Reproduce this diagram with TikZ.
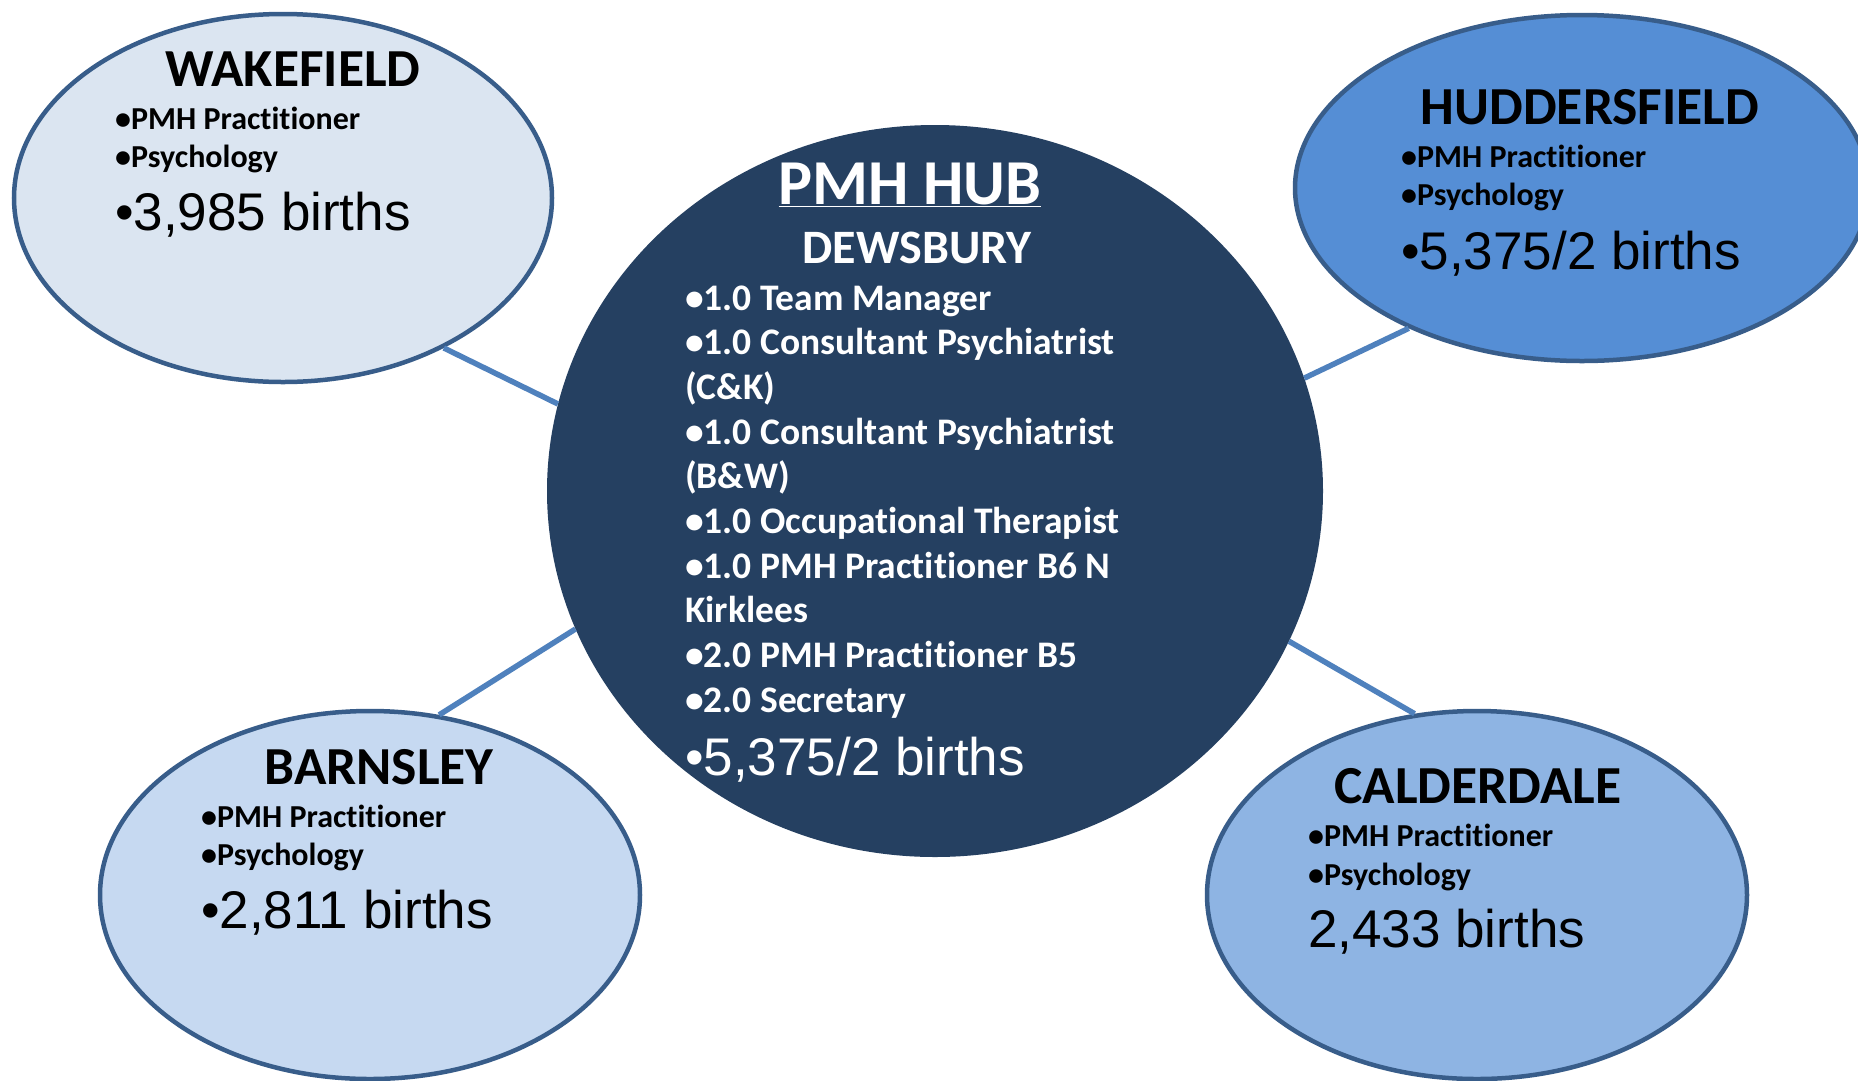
\documentclass[tikz,border=0pt]{standalone}
\usepackage{fontspec}
\setmainfont{Carlito}[Ligatures=CommonOff]
\newfontfamily\arialfont{Liberation Sans}
\usetikzlibrary{shapes.geometric, positioning, calc}

\definecolor{wakefill}{RGB}{219,229,241}
\definecolor{hudfill}{RGB}{85,142,213}
\definecolor{hubfill}{RGB}{37,64,97}
\definecolor{barnfill}{RGB}{198,217,241}
\definecolor{calfill}{RGB}{142,180,227}
\definecolor{siteline}{RGB}{56,93,138}
\definecolor{linkblue}{RGB}{79,129,189}

\tikzset{
  site/.style={ellipse, draw=siteline, line width=4.5pt, inner sep=0pt},
  sitetitle/.style={anchor=base, inner sep=0pt, font=\bfseries\fontsize{53.5}{58}\selectfont},
  item/.style={anchor=base west, inner sep=0pt, font=\bfseries\fontsize{32}{36}\selectfont},
  births/.style={anchor=base west, inner sep=0pt, font=\arialfont\fontsize{53}{58}\selectfont},
  link/.style={draw=linkblue, line width=5.5pt}
}

\begin{document}
\begin{tikzpicture}[x=1pt, y=-1pt]
\clip (0,0) rectangle (1858,1080);
\fill[white] (0,0) rectangle (1858,1080);

% Hub
\node[ellipse, fill=hubfill, inner sep=0pt, minimum width=776pt, minimum height=732pt] (hub) at (935,491) {};
\node[sitetitle, text=white, font=\bfseries\fontsize{64}{68}\selectfont] (hubT) at (910,204) {\underline{PMH HUB}};
\node[sitetitle, text=white, font=\bfseries\fontsize{48}{52}\selectfont] (hubS) at (917,263) {DEWSBURY};
\foreach \t [count=\i from 0] in {{•1.0 Team Manager}, {•1.0 Consultant Psychiatrist}, {(C\&K)},
    {•1.0 Consultant Psychiatrist}, {(B\&W)}, {•1.0 Occupational Therapist},
    {•1.0 PMH Practitioner B6 N}, {Kirklees}, {•2.0 PMH Practitioner B5}, {•2.0 Secretary}}
  \node[item, text=white, font=\bfseries\fontsize{37.5}{44}\selectfont] (hubL\i) at (685,{310+44.7*\i}) {\t};
\node[births, text=white] (hubB) at (685,775) {•5,375/2 births};

% Wakefield
\node[site, fill=wakefill, minimum width=538pt, minimum height=368pt] (wake) at (283,198) {};
\node[sitetitle] (wakeT) at (293,86) {WAKEFIELD};
\node[item] (wakeL1) at (115,129) {•PMH Practitioner};
\node[item] (wakeL2) at (115,167) {•Psychology};
\node[births] (wakeB) at (115,230) {•3,985 births};

% Huddersfield
\node[site, fill=hudfill, minimum width=574pt, minimum height=346pt] (hud) at (1582,188) {};
\node[sitetitle] (hudT) at (1590,124) {HUDDERSFIELD};
\node[item] (hudL1) at (1401,167) {•PMH Practitioner};
\node[item] (hudL2) at (1401,205) {•Psychology};
\node[births] (hudB) at (1401,269) {•5,375/2 births};

% Barnsley
\node[site, fill=barnfill, minimum width=540pt, minimum height=368pt] (barn) at (370,895) {};
\node[sitetitle] (barnT) at (379,784) {BARNSLEY};
\node[item] (barnL1) at (201,827) {•PMH Practitioner};
\node[item] (barnL2) at (201,865) {•Psychology};
\node[births] (barnB) at (201,928) {•2,811 births};

% Calderdale
\node[site, fill=calfill, minimum width=540pt, minimum height=368pt] (cal) at (1477,895) {};
\node[sitetitle] (calT) at (1478,803) {CALDERDALE};
\node[item] (calL1) at (1308,846) {•PMH Practitioner};
\node[item] (calL2) at (1308,885) {•Psychology};
\node[births] (calB) at (1308,947) {2,433 births};

% Links
\draw[link] (wake.-43) -- (hub.167);
\draw[link] (hud.219) -- (hub.17);
\draw[link] (barn.69) -- (hub.201);
\draw[link] (cal.109) -- (hub.-23);
\end{tikzpicture}
\end{document}
